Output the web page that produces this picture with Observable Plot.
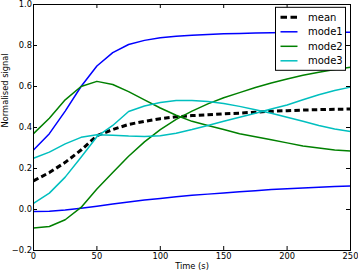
<!DOCTYPE html>
<html>
<head>
<meta charset="utf-8">
<script src="https://cdn.jsdelivr.net/npm/d3@7"></script>
<script src="https://cdn.jsdelivr.net/npm/@observablehq/plot@0.6"></script>
<style>
  html, body { margin: 0; padding: 0; background: #fff; }
</style>
</head>
<body>
<div id="chart"></div>
<script>
const time = [0,12.5,25,37.5,50,62.5,75,87.5,100,112.5,125,137.5,150,162.5,175,187.5,200,212.5,225,237.5,250];
const meanVals  = [0.14,0.18,0.23,0.29,0.36,0.39,0.415,0.43,0.443,0.452,0.458,0.462,0.467,0.47,0.475,0.479,0.482,0.485,0.487,0.489,0.49];
const mode1a = [0.29,0.37,0.48,0.60,0.70,0.765,0.805,0.825,0.838,0.845,0.85,0.854,0.857,0.859,0.861,0.862,0.863,0.864,0.864,0.865,0.865];
const mode1b = [-0.01,-0.008,-0.003,0.006,0.016,0.027,0.037,0.046,0.054,0.062,0.069,0.075,0.081,0.087,0.092,0.097,0.101,0.105,0.109,0.112,0.115];
const mode2a = [0.37,0.445,0.535,0.60,0.625,0.61,0.575,0.535,0.495,0.46,0.43,0.41,0.39,0.37,0.355,0.34,0.325,0.31,0.30,0.29,0.285];
const mode2b = [-0.09,-0.083,-0.05,0.01,0.10,0.18,0.26,0.33,0.39,0.44,0.48,0.515,0.545,0.57,0.595,0.617,0.637,0.655,0.67,0.683,0.694];
const mode3a = [0.25,0.28,0.32,0.352,0.365,0.362,0.358,0.356,0.36,0.372,0.39,0.41,0.43,0.45,0.47,0.49,0.51,0.535,0.56,0.58,0.597];
const mode3b = [0.03,0.08,0.158,0.255,0.355,0.41,0.478,0.505,0.522,0.532,0.532,0.527,0.517,0.503,0.487,0.47,0.45,0.43,0.41,0.393,0.38];

const seriesNames = ["mean","mode1","mode2","mode3"];
const seriesColors = ["#000000","#0000ff","#008000","#00bfbf"];
const xTicks = [0,50,100,150,200,250];
const yTicks = [-0.2,0.0,0.2,0.4,0.6,0.8,1.0];
const xLabel = "Time (s)";
const yLabel = "Normalised signal";

const W = 358, H = 273;
const mL = 33, mR = 8, mT = 4, mB = 23;
const innerW = W - mL - mR, innerH = H - mT - mB;
const tickLen = 4;

const lines = [
  {name: "mean", vals: meanVals, dashed: true},
  {name: "mode1", vals: mode1a}, {name: "mode1", vals: mode1b},
  {name: "mode2", vals: mode2a}, {name: "mode2", vals: mode2b},
  {name: "mode3", vals: mode3a}, {name: "mode3", vals: mode3b}
];
const colorOf = n => seriesColors[seriesNames.indexOf(n)];

const lineMarks = lines.map(L => {
  const data = time.map((t, i) => ({t, v: L.vals[i]}));
  return Plot.line(data, {
    x: "t", y: "v",
    stroke: colorOf(L.name),
    strokeWidth: L.dashed ? 3 : 1.5,
    strokeDasharray: L.dashed ? "5.5,3.2" : null,
    strokeLinejoin: "round",
    strokeLinecap: "butt"
  });
});

const chart = Plot.plot({
  width: W, height: H,
  marginLeft: mL, marginRight: mR, marginTop: mT, marginBottom: mB,
  style: {fontFamily: "'DejaVu Sans', sans-serif", fontSize: "8.3px", color: "#000", background: "#fff"},
  x: {domain: [0, 250], ticks: xTicks, label: null},
  y: {domain: [-0.2, 1.0], ticks: yTicks, label: null, tickFormat: d3.format(".1f")},
  marks: [
    Plot.axisX({ticks: xTicks, tickSize: 0, tickPadding: 2.5, label: null}),
    Plot.axisY({ticks: yTicks, tickSize: 0, tickPadding: 1.5, label: null, tickFormat: d3.format(".1f")}),
    ...lineMarks,
    Plot.tickX(xTicks, {x: d => d, insetTop: innerH - tickLen, stroke: "#000", strokeWidth: 1}),
    Plot.tickX(xTicks, {x: d => d, insetBottom: innerH - tickLen, stroke: "#000", strokeWidth: 1}),
    Plot.tickY(yTicks, {y: d => d, insetRight: innerW - tickLen, stroke: "#000", strokeWidth: 1}),
    Plot.tickY(yTicks, {y: d => d, insetLeft: innerW - tickLen, stroke: "#000", strokeWidth: 1}),
    Plot.frame({stroke: "#000", strokeWidth: 1}),
    Plot.text([xLabel], {frameAnchor: "bottom", dy: 18, text: d => d, fontSize: 8.3, fill: "#000"}),
    Plot.text([yLabel], {frameAnchor: "left", dx: -28, rotate: -90, text: d => d, fontSize: 8.3, fill: "#000"})
  ]
});
document.getElementById("chart").appendChild(chart);

// Legend (matplotlib-style box inside the axes, upper right)
const svg = d3.select(chart);
const boxW = 70, boxH = 63, pad = 4.5;
const lx = W - mR - pad - boxW, ly = mT + 3.3;
const g = svg.append("g").attr("transform", `translate(${lx},${ly})`);
g.append("rect").attr("width", boxW).attr("height", boxH)
  .attr("fill", "#fff").attr("stroke", "#000").attr("stroke-width", 1);
seriesNames.forEach((n, i) => {
  const yy = 10 + i * 14.5;
  g.append("line").attr("x1", 5).attr("x2", 22).attr("y1", yy).attr("y2", yy)
    .attr("stroke", seriesColors[i])
    .attr("stroke-width", i === 0 ? 3 : 1.5)
    .attr("stroke-dasharray", i === 0 ? "6.5,3.5" : null);
  g.append("text").attr("x", 32.5).attr("y", yy).attr("dy", "0.35em")
    .attr("text-anchor", "start")
    .attr("font-family", "'DejaVu Sans', sans-serif").attr("font-size", 10)
    .attr("fill", "#000").text(n);
});
</script>
</body>
</html>
